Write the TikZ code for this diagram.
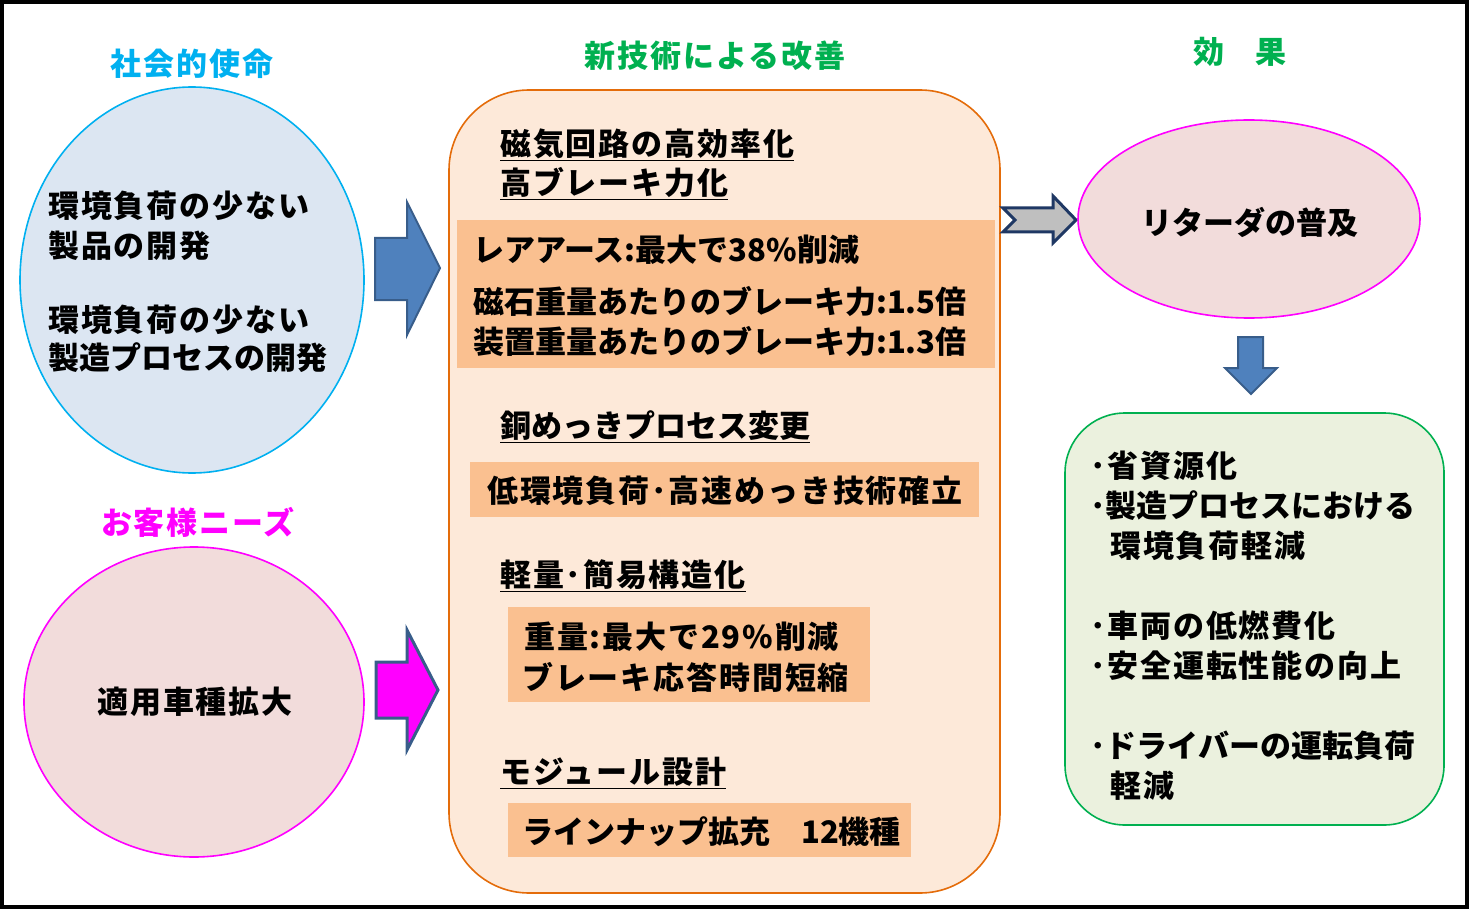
\documentclass[tikz,border=0pt]{standalone}
\usepackage{fontspec}
\setmainfont{Noto Sans CJK JP}
\newfontfamily\jpsp{Noto Sans CJK JP}[LetterSpace=6]
\usetikzlibrary{shapes.geometric}
\definecolor{cyanC}{HTML}{00B0F0}
\definecolor{blueFill}{HTML}{DCE6F2}
\definecolor{magC}{HTML}{FF00FF}
\definecolor{pinkFill}{HTML}{F2DCDB}
\definecolor{arrBlue}{HTML}{4F81BD}
\definecolor{arrEdge}{HTML}{385D8A}
\definecolor{orEdge}{HTML}{E46C0A}
\definecolor{orFill}{HTML}{FDE9D9}
\definecolor{orBox}{HTML}{FAC090}
\definecolor{grC}{HTML}{00B050}
\definecolor{grFill}{HTML}{EBF1DE}
\definecolor{grayA}{HTML}{BFBFBF}
\definecolor{navy}{HTML}{1F3864}
\begin{document}
\begin{tikzpicture}[x=1pt,y=-1pt,
  jt/.style={inner sep=0pt, anchor=west, font=\fontsize{31}{37}\selectfont\bfseries},
  jts/.style={inner sep=0pt, anchor=west, font=\jpsp\fontsize{31}{37}\selectfont\bfseries},
  jc/.style={inner sep=0pt, font=\fontsize{31}{37}\selectfont\bfseries},
  jcs/.style={inner sep=0pt, font=\jpsp\fontsize{31}{37}\selectfont\bfseries},
  obox/.style={fill=orBox, draw=none, inner sep=0pt},
  blk/.style={line width=2pt, line join=miter}]
\useasboundingbox (0,0) rectangle (1469,909);
\draw[line width=4pt] (2,2) rectangle (1467,907);

% left column
\node[jcs, text=cyanC] (t1) at (192,64) {社会的使命};
\node[ellipse, draw=cyanC, fill=blueFill, line width=1.6pt, inner sep=0pt,
      minimum width=344pt, minimum height=386pt] (c1) at (192,280) {};
\node[jts] (l1) at (48,206) {環境負荷の少ない};
\node[jts] (l2) at (48,246) {製品の開発};
\node[jts] (l3) at (48,320) {環境負荷の少ない};
\node[jt] (l4) at (48,358) {製造プロセスの開発};

\node[jcs, text=magC] (t2) at (198,522) {お客様ニーズ};
\node[ellipse, draw=magC, fill=pinkFill, line width=1.6pt, inner sep=0pt,
      minimum width=340pt, minimum height=310pt] (c2) at (194,702) {};
\node[jcs] (l5) at (195,702) {適用車種拡大};

% left arrows
\draw[blk, fill=arrBlue, draw=arrEdge] (375,238) -- (407,238) -- (407,202) -- (440,268)
   -- (407,335) -- (407,300) -- (375,300) -- cycle;
\draw[blk, fill=magC, draw=arrEdge, line width=3pt] (376,662) -- (407,662) -- (407,630) -- (438,690)
   -- (407,750) -- (407,718) -- (376,718) -- cycle;

% middle column
\node[jcs, text=grC] (t3) at (715,56) {新技術による改善};
\node[draw=orEdge, fill=orFill, line width=1.6pt, rounded corners=80pt,
      minimum width=551pt, minimum height=803pt, inner sep=0pt] (mid) at (724.5,491.5) {};

\node[jts] (h1) at (500,145) {\underline{磁気回路の高効率化}};
\node[jts] (h2) at (500,184) {\underline{高ブレーキ力化}};
\node[obox, minimum width=538pt, minimum height=148pt] (b1) at (726,294) {};
\node[jt] (p1) at (473,250) {レアアース:最大で38\%削減};
\node[jt] (p2) at (473,302) {磁石重量あたりのブレーキ力:1.5倍};
\node[jt] (p3) at (473,342) {装置重量あたりのブレーキ力:1.3倍};

\node[jt] (h3) at (500,427) {\underline{銅めっきプロセス変更}};
\node[obox, minimum width=509pt, minimum height=55pt] (b2) at (724.5,489.5) {};
\node[jts] (p4) at (487,491) {低環境負荷･高速めっき技術確立};

\node[jts] (h4) at (500,576) {\underline{軽量･簡易構造化}};
\node[obox, minimum width=362pt, minimum height=95pt] (b3) at (689,654.5) {};
\node[jts] (p5) at (524,637) {重量:最大で29\%削減};
\node[jts] (p6) at (522,677) {ブレーキ応答時間短縮};

\node[jts] (h5) at (500,773) {\underline{モジュール設計}};
\node[obox, minimum width=403pt, minimum height=54pt] (b4) at (709.5,830) {};
\node[jt] (p7) at (522,832) {ラインナップ拡充　12機種};

% gray arrow
\draw[fill=grayA, draw=navy, line width=3pt, line join=miter]
  (1003,208) -- (1053,208) -- (1053,196) -- (1076,220) -- (1053,243) -- (1053,232)
  -- (1003,232) -- (1015,220) -- cycle;

% right column
\node[jc, text=grC] (t4) at (1240,52) {効　果};
\node[ellipse, draw=magC, fill=pinkFill, line width=1.6pt, inner sep=0pt,
      minimum width=342pt, minimum height=198pt] (c3) at (1249,219) {};
\node[jc] (r0) at (1250,222) {リターダの普及};

\draw[blk, fill=arrBlue, draw=arrEdge] (1238,337) -- (1263,337) -- (1263,368) -- (1277,368)
   -- (1251,394) -- (1225,368) -- (1238,368) -- cycle;

\node[draw=grC, fill=grFill, line width=1.6pt, rounded corners=60pt,
      minimum width=379pt, minimum height=412pt, inner sep=0pt] (rb) at (1254.5,619) {};
\node[jts] (r1) at (1090,466) {･省資源化};
\node[jt] (r2) at (1090,506) {･製造プロセスにおける};
\node[jts] (r3) at (1110,546) {環境負荷軽減};
\node[jts] (r4) at (1090,626) {･車両の低燃費化};
\node[jts] (r5) at (1090,666) {･安全運転性能の向上};
\node[jt] (r6) at (1090,746) {･ドライバーの運転負荷};
\node[jts] (r7) at (1110,786) {軽減};
\end{tikzpicture}
\end{document}
